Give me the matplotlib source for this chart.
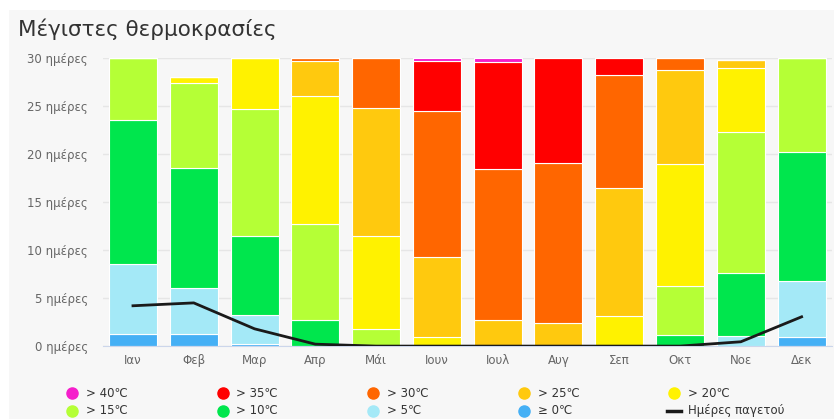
import numpy as np
import matplotlib.pyplot as plt
from matplotlib.lines import Line2D
from matplotlib.patches import Rectangle

# Μήνες
months = ["Ιαν", "Φεβ", "Μαρ", "Απρ", "Μάι", "Ιουν", "Ιουλ", "Αυγ", "Σεπ", "Οκτ", "Νοε", "Δεκ"]

# Ημέρες ανά κατηγορία μέγιστης θερμοκρασίας
ge0 = [1.3, 1.25, 0.2, 0, 0, 0, 0, 0, 0, 0, 0, 0.9]
gt5 = [7.3, 4.85, 3.0, 0, 0, 0, 0, 0, 0, 0, 1.0, 5.9]
gt10 = [14.9, 12.5, 8.3, 2.7, 0, 0, 0, 0, 0, 1.15, 6.6, 13.4]
gt15 = [6.5, 8.8, 13.2, 10.0, 1.8, 0, 0, 0, 0, 5.15, 14.7, 9.8]
gt20 = [0, 0.6, 5.3, 13.4, 9.65, 0.9, 0, 0, 3.1, 12.65, 6.7, 0]
gt25 = [0, 0, 0, 3.55, 13.3, 8.4, 2.7, 2.4, 13.4, 9.8, 0.8, 0]
gt30 = [0, 0, 0, 0.35, 5.25, 15.2, 15.7, 16.7, 11.7, 1.25, 0, 0]
gt35 = [0, 0, 0, 0, 0, 5.2, 11.2, 10.9, 1.8, 0, 0, 0]
gt40 = [0, 0, 0, 0, 0, 0.3, 0.4, 0, 0, 0, 0, 0]

# Ημέρες παγετού
frost = [4.2, 4.5, 1.8, 0.2, 0, 0, 0, 0, 0, 0, 0.45, 3.05]

series = [ge0, gt5, gt10, gt15, gt20, gt25, gt30, gt35, gt40]
labels = ["≥ 0℃", "> 5℃", "> 10℃", "> 15℃", "> 20℃", "> 25℃", "> 30℃", "> 35℃", "> 40℃"]
colors = ["#45b0f5", "#a4e9f7", "#00e64d", "#b5ff36", "#fff200",
          "#ffc90e", "#ff6600", "#ff0000", "#f51ecb"]

bg = "#f7f7f7"
fig = plt.figure(figsize=(8.34, 4.19), dpi=100, facecolor="white")
# γκρι πλαίσιο με λευκό περιθώριο πάνω/αριστερά
fig.add_artist(Rectangle((9 / 834, 0), 1, 1 - 10 / 419, transform=fig.transFigure,
                         facecolor=bg, edgecolor="none", zorder=-10))

ax = fig.add_axes([0.123, 0.174, 0.8746, 0.6874])
ax.set_facecolor(bg)

x = np.arange(len(months))
bottom = np.zeros(len(months))
for vals, lab, col in zip(series, labels, colors):
    ax.bar(x, vals, bottom=bottom, width=0.79, color=col, edgecolor="white", linewidth=0.8, zorder=2)
    bottom += np.array(vals)

ax.plot(x, frost, color="#1a1a1a", linewidth=2, zorder=3)

ax.set_xlim(-0.5, len(months) - 0.5)
ax.set_ylim(0, 30)
ax.set_yticks(range(0, 31, 5))
ax.set_yticklabels([f"{v} ημέρες" for v in range(0, 31, 5)], color="#666666", fontsize=8.5)
ax.set_xticks(x)
ax.set_xticklabels(months, color="#666666", fontsize=8.5)
ax.tick_params(axis="y", length=0, pad=10.5)
ax.tick_params(axis="x", length=0, pad=6)
ax.grid(axis="y", color="#e6e6e6", linewidth=1, zorder=0)
for s in ["top", "right", "left"]:
    ax.spines[s].set_visible(False)
ax.spines["bottom"].set_color("#ccd6eb")

fig.text(0.021, 0.93, "Μέγιστες θερμοκρασίες", fontsize=15.5, color="#333333", va="center")

# Υπόμνημα
legend_items = list(zip(labels[::-1], colors[::-1])) + [("Ημέρες παγετού", None)]
for i, (lab, col) in enumerate(legend_items):
    row, colno = divmod(i, 5)
    xm = (72 + 150.5 * colno) / 834
    ym = 1 - (393 + 17.5 * row) / 419
    if col is None:
        fig.add_artist(Line2D([xm - 7 / 834, xm + 7 / 834], [ym, ym], color="#1a1a1a", linewidth=2.5,
                              transform=fig.transFigure))
    else:
        fig.add_artist(Line2D([xm], [ym], marker="o", markersize=8, color=col, linestyle="none",
                              transform=fig.transFigure))
    fig.text(xm + 14 / 834, ym, lab, fontsize=8.5, color="#333333", va="center")

fig.savefig("out.png", dpi=100, facecolor="white")
